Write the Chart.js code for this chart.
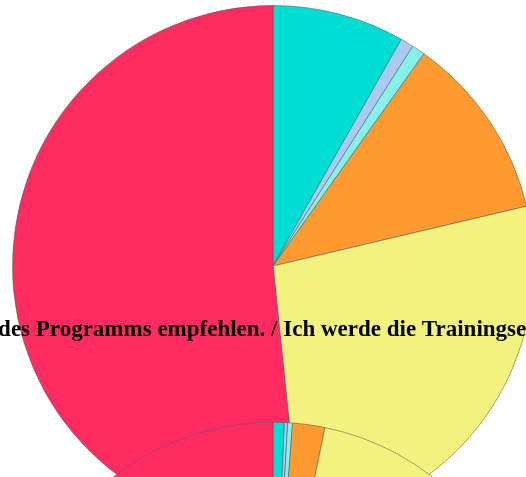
<!DOCTYPE html>
<html>
<head>
<meta charset="utf-8">
<script src="https://cdn.jsdelivr.net/npm/chart.js@4/dist/chart.umd.min.js"></script>
<style>
  html, body { margin: 0; padding: 0; background: #fff; overflow: hidden; width: 526px; height: 477px; }
  .box { position: absolute; }
  #box1 { left: 12px; top: 5px; width: 522px; height: 522px; }
  #box2 { left: -1227px; top: 306px; width: 3000px; height: 705px; }
</style>
</head>
<body>
<div class="box" id="box1"><canvas id="pie1"></canvas></div>
<div class="box" id="box2"><canvas id="pie2"></canvas></div>
<script>
const labels = ["Trifft gar nicht zu", "Trifft eher nicht zu", "Weiß nicht", "Teils/teils", "Trifft eher zu", "Trifft voll zu"];
const colors = ["#00ddd5", "#a9cbf2", "#84f2ea", "#ff9a30", "#f2f27e", "#ff2b61"];
const values1 = [10, 1, 1, 14, 33, 63];
const values2 = [0.7, 0.2, 0.3, 2.0, 38.0, 58.8];
const title2 = "Ich würde die Trainingseinheiten anderen Teilnehmenden des Programms empfehlen. / Ich werde die Trainingseinheiten anderen Teilnehmenden des Programms empfehlen.";

function makePie(canvasId, values, titleText, radius) {
  const ctx = document.getElementById(canvasId).getContext("2d");
  return new Chart(ctx, {
    type: "pie",
    data: {
      labels: labels,
      datasets: [{
        data: values,
        backgroundColor: colors,
        borderColor: "rgba(90,90,90,0.55)",
        borderWidth: 1,
        radius: radius
      }]
    },
    options: {
      responsive: true,
      maintainAspectRatio: false,
      animation: false,
      plugins: {
        legend: { display: false },
        tooltip: { enabled: false },
        title: {
          display: !!titleText,
          text: titleText,
          color: "#000",
          font: { family: "Liberation Serif, serif", size: 23, weight: "bold" },
          padding: { top: 10, bottom: 10 }
        }
      }
    }
  });
}

makePie("pie1", values1, "", "100%");
makePie("pie2", values2, title2, 260);
</script>
</body>
</html>
